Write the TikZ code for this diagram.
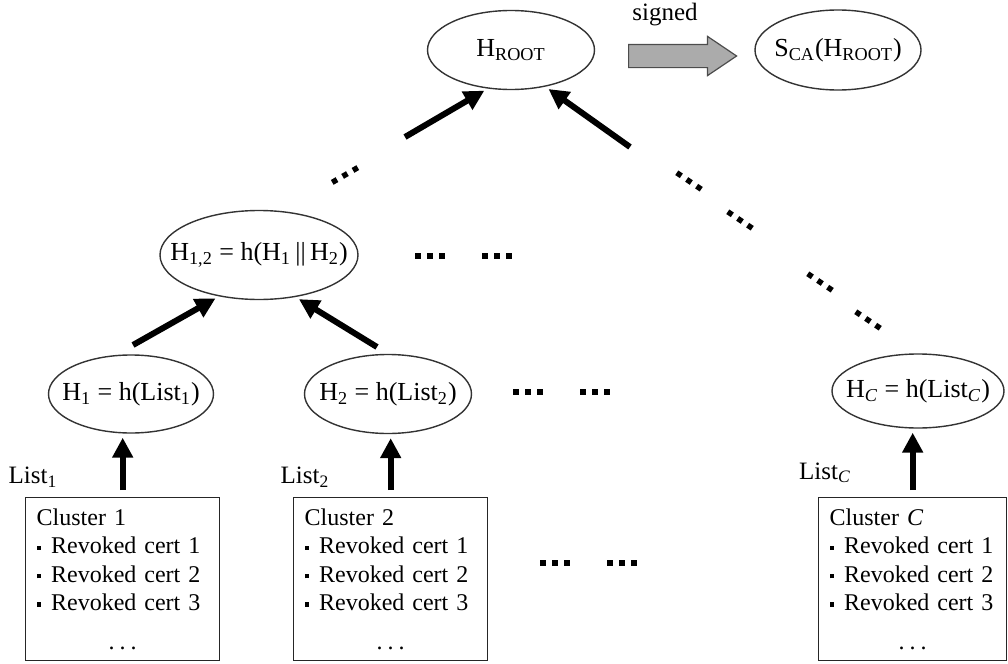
\documentclass[tikz,border=0pt]{standalone}
\usepackage{fontspec}
\setmainfont{Liberation Serif}
\usetikzlibrary{arrows.meta,shapes.geometric,shapes.arrows}

\newcommand{\zw}[1]{\makebox[0pt]{#1}}
\newcommand{\sub}[1]{\textsubscript{#1}}
\newcommand{\sqb}{\rule[2pt]{2.2pt}{2.2pt}\hspace{5pt}}
\newcommand{\certlist}[1]{Cluster #1\\ \sqb Revoked cert 1\\ \sqb Revoked cert 2\\ \sqb Revoked cert 3\\[5pt] \hbox to\hsize{\hfil.\hspace{2.5pt}.\hspace{2.5pt}.\hfil}}

\tikzset{dotrow/.pic={\foreach \i in {-1,0,1} \fill (\i*12-2.75,-2.75) rectangle ++(5.5,5.5);}}

\begin{document}
\begin{tikzpicture}[x=0.5pt,y=-0.5pt,>={Triangle[length=10pt,width=10pt]},font=\fontsize{12.5}{14.25}\selectfont]

  \tikzstyle{hash}=[ellipse,draw=black!80,line width=0.7pt,inner sep=0pt,font=\fontsize{13}{15}\selectfont]
  \tikzstyle{cluster}=[rectangle,draw=black!85,line width=0.7pt,anchor=north west,text width=86pt,minimum height=81.5pt,align=left,inner xsep=5.5pt,inner ysep=5.5pt,font=\fontsize{12}{14.2}\selectfont]
  \tikzstyle{up}=[->,line width=3pt,shorten >=2pt]
  \tikzstyle{signarrow}=[single arrow,draw=black!70,fill=black!33,line width=0.6pt,minimum height=54pt,minimum width=19pt,inner xsep=0pt,inner ysep=5.5pt,single arrow head extend=4pt,single arrow tip angle=68]

  \useasboundingbox (0,0) rectangle (1008,664);

  % root and signature
  \node[hash,minimum width=83.5pt,minimum height=39.5pt] (root) at (511,50) {\zw{H\sub{ROOT}}};
  \node[signarrow] (sign) at (674,56) {};
  \node (signed) at (665,15) {signed};
  \node[hash,minimum width=83pt,minimum height=40pt] (sca) at (838,50) {\zw{S\sub{CA}(H\sub{ROOT})}};

  % inner level
  \node[hash,minimum width=99pt,minimum height=44.5pt] (h12) at (259,255) {\zw{H\sub{1,2} = h(H\sub{1}\,||\,H\sub{2})}};

  % leaves
  \node[hash,minimum width=82.5pt,minimum height=39pt] (h1) at (131,394) {\zw{H\sub{1} = h(List\sub{1})}};
  \node[hash,minimum width=83.5pt,minimum height=39.5pt] (h2) at (388,394) {\zw{H\sub{2} = h(List\sub{2})}};
  \node[hash,minimum width=86pt,minimum height=37pt] (hc) at (918,391) {\zw{H\sub{\textit{C}} = h(List\sub{\textit{C}})}};

  % clusters
  \node[cluster] (c1) at (25,497) {\certlist{1}};
  \node[cluster] (c2) at (293,497) {\certlist{2}};
  \node[cluster,text width=83pt] (cc) at (818,497) {\certlist{\textit{C}}};

  \node (l1) at (33,477) {List\sub{1}};
  \node (l2) at (305,477) {List\sub{2}};
  \node (lc) at (825,473) {List\sub{\textit{C}}};

  % arrows
  \draw[up,shorten <=3.5pt] (c1.north) -- (c1.north |- h1.south);
  \draw[up,shorten <=3.5pt] (c2.north) -- (c2.north |- h2.south);
  \draw[up,shorten <=3.5pt] (cc.north) -- (cc.north |- hc.south);

  \coordinate (s1) at (133,345);
  \coordinate (s2) at (377,347);
  \coordinate (s3) at (405,137);
  \coordinate (s4) at (630,147);
  \draw[up] (s1) -- (h12.226);
  \draw[up] (s2) -- (h12.-49);
  \draw[up] (s3) -- (root.239);
  \draw[up] (s4) -- (root.-47);

  % omitted parts
  \pic[rotate=30] at (345,175) {dotrow};
  \foreach \x in {430,497} \pic at (\x,256) {dotrow};
  \foreach \x in {528,595} \pic at (\x,392) {dotrow};
  \foreach \x in {555,622} \pic at (\x,563) {dotrow};
  \foreach \p in {(689,181),(740,220),(820,282),(868,320)} \pic[rotate=-34] at \p {dotrow};

\end{tikzpicture}
\end{document}
